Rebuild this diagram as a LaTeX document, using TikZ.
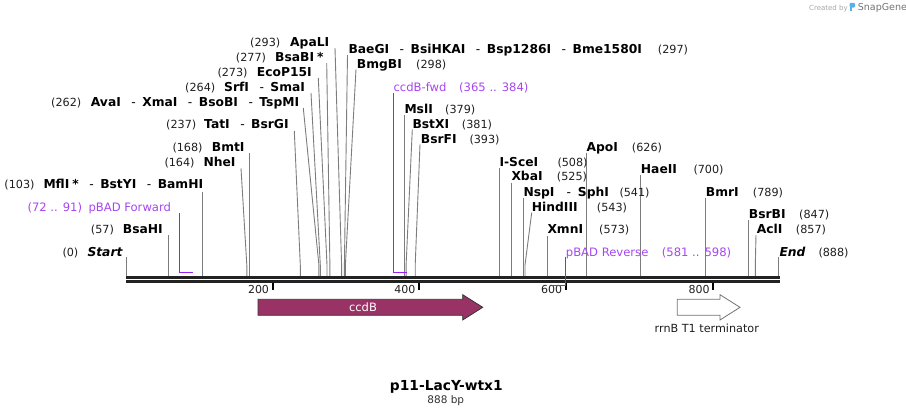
\documentclass[tikz,border=0pt]{standalone}
\usepackage{fontspec}
\setmainfont{DejaVu Sans}
\definecolor{sitegray}{RGB}{125,125,125}
\definecolor{axiscol}{RGB}{34,34,34}
\definecolor{primline}{RGB}{158,32,240}
\definecolor{primtext}{RGB}{166,70,240}
\definecolor{ccdbfill}{RGB}{153,51,102}
\definecolor{numcol}{RGB}{30,30,30}
\definecolor{logoblue}{RGB}{90,175,230}
\newcommand\sepr{\hspace{10.5pt}{\mdseries-}\hspace{6.5pt}}
\newcommand\cutsite[4]{%
  \coordinate (#1t) at (#2,#3);
  \coordinate (#1b) at (#4,265);
  \coordinate (#1a) at (#4,276);
  \draw[site] (#1t) -- (#1b) -- (#1a);}
\tikzset{
  nm/.style={anchor=base west, inner sep=0pt, font=\fontsize{12.3}{14}\selectfont\bfseries, text=black},
  num/.style={anchor=base west, inner sep=0pt, font=\fontsize{11.2}{13}\selectfont, text=numcol},
  prim/.style={anchor=base west, inner sep=0pt, font=\fontsize{11.6}{13}\selectfont, text=primtext},
  site/.style={draw=sitegray, line width=0.9pt},
  primer/.style={draw=primline, line width=1.5pt},
  axisline/.style={draw=axiscol, line width=2.5pt},
  tickmark/.style={draw=black, line width=1.8pt},
  ticklab/.style={anchor=base east, inner sep=0pt, font=\fontsize{11}{13}\selectfont, text=numcol},
}
\begin{document}
\begin{tikzpicture}[x=1pt,y=-1pt]
\useasboundingbox (0,0) rectangle (906,415);

% ---- logo
\node[anchor=base west, inner sep=0pt, font=\fontsize{7}{8}\selectfont, text=black!35] (cr) at (809,10) {Created by};
\fill[logoblue, rounded corners=1pt] (849.5,2.8) rectangle (855,7.5);
\fill[logoblue] (849.5,6) rectangle (852,10.5);
\node[anchor=base west, inner sep=0pt, font=\fontsize{9.5}{11}\selectfont, text=black!55] (sg) at (857.7,10.5) {SnapGene};

% ---- site lines
\cutsite{ApaLI}{335}{48}{341.6}
\cutsite{BsaBI}{326.7}{63}{329.9}
\cutsite{EcoP}{318.3}{78}{327}
\cutsite{SrfI}{311}{93}{320.3}
\cutsite{AvaI}{303.3}{108}{318.9}
\cutsite{TatI}{294.3}{131}{300.3}
\cutsite{BmtI}{249.8}{153}{249.8}
\cutsite{NheI}{241}{168.3}{246.8}
\cutsite{MflI}{202.2}{191.7}{202.2}
\cutsite{BsaHI}{168.5}{235}{168.5}
\cutsite{Start}{126.7}{256.7}{126.7}
\cutsite{BaeGI}{347.5}{55}{344.4}
\cutsite{BmgBI}{356}{69.3}{345.4}
\cutsite{MslI}{404.5}{115}{404.5}
\cutsite{BstXI}{412.3}{129.3}{406.1}
\cutsite{BsrFI}{420}{144.3}{415.2}
\cutsite{ApoI}{586.1}{152.5}{586.1}
\cutsite{ISceI}{499.3}{168.3}{499.3}
\cutsite{HaeII}{640.3}{175}{640.3}
\cutsite{XbaI}{511.5}{183}{511.5}
\cutsite{NspI}{523.4}{198}{523.4}
\cutsite{BmrI}{705.5}{198.3}{705.5}
\cutsite{HindIII}{531.7}{212.7}{525}
\cutsite{BsrBI}{748.2}{220}{748.2}
\cutsite{XmnI}{547.2}{236}{547.2}
\cutsite{AclI}{756}{235}{755.3}
\cutsite{End}{778.6}{257.3}{778.6}

% ---- axis
\coordinate (axL1) at (126.2,277.3);
\coordinate (axR1) at (779.6,277.3);
\coordinate (axL2) at (126.2,281.4);
\coordinate (axR2) at (779.6,281.4);
\draw[axisline] (axL1) -- (axR1);
\draw[axisline] (axL2) -- (axR2);

% ticks
\foreach \tx/\tl in {272.8/200, 419.2/400, 565.8/600, 713.3/800}{
  \draw[tickmark] (\tx,283) -- (\tx,290);
  \node[ticklab] at (\tx-3.6,293.5) {\tl};
}

% ---- primers
\coordinate (pf1) at (179.3,213.3);
\coordinate (pf2) at (179.3,272.6);
\coordinate (pf3) at (193.0,272.6);
\draw[primer] (pf1) -- (pf2) -- (pf3);
\coordinate (cf1) at (393.6,93.3);
\coordinate (cf2) at (393.6,272.6);
\coordinate (cf3) at (407.3,272.6);
\draw[primer] (cf1) -- (cf2) -- (cf3);
\coordinate (pr1) at (565.6,256.7);
\coordinate (pr2) at (565.6,285.6);
\coordinate (pr3) at (552.0,285.6);
\draw[primer] (pr1) -- (pr2) -- (pr3);

% ---- features
\draw[draw=black!80, line width=0.8pt, fill=ccdbfill]
  (258,299.3) -- (462.7,299.3) -- (462.7,294.7) -- (482.7,307.3) -- (462.7,320) -- (462.7,315.3) -- (258,315.3) -- cycle;
\node[inner sep=0pt, font=\fontsize{11.5}{13}\selectfont, text=white] (ccdB) at (363,307) {ccdB};
\draw[draw=black!55, line width=0.8pt, fill=white]
  (677.3,299.3) -- (720,299.3) -- (720,294.7) -- (740,307.3) -- (720,320) -- (720,315.3) -- (677.3,315.3) -- cycle;
\node[anchor=base, inner sep=0pt, font=\fontsize{11.2}{13}\selectfont, text=numcol] (rrnB) at (706.8,332.3) {rrnB T1 terminator};

% ---- left labels
\node[num] (p293) at (250,46.6) {(293)};   \node[nm] (nApaLI) at (290,46.6) {ApaLI};
\node[num] (p277) at (235.7,61) {(277)};   \node[nm] (nBsaBI) at (275,61) {BsaBI\hspace{3pt}*};
\node[num] (p273) at (217.3,76) {(273)};   \node[nm] (nEcoP) at (256.7,76) {EcoP15I};
\node[num] (p264) at (185,91.6) {(264)};   \node[nm] (nSrfI) at (224,91.6) {SrfI\sepr SmaI};
\node[num] (p262) at (51,106) {(262)};     \node[nm] (nAvaI) at (90.7,106) {AvaI\sepr XmaI\sepr BsoBI\sepr TspMI};
\node[num] (p237) at (166,128.6) {(237)};  \node[nm] (nTatI) at (204,128.6) {TatI\sepr BsrGI};
\node[num] (p168) at (172.3,151) {(168)};  \node[nm] (nBmtI) at (211.7,151) {BmtI};
\node[num] (p164) at (164.3,166.6) {(164)}; \node[nm] (nNheI) at (203.3,166.6) {NheI};
\node[num] (p103) at (4.3,188.3) {(103)};  \node[nm] (nMflI) at (43.3,188.3) {MflI\hspace{3pt}*\sepr BstYI\sepr BamHI};
\node[prim] (ppf) at (27.3,211) {(72 .. 91)}; \node[prim] (npf) at (88.3,211) {pBAD Forward};
\node[num] (p57) at (90.7,233.6) {(57)};   \node[nm] (nBsaHI) at (122.7,233.6) {BsaHI};
\node[num] (p0) at (62.3,256) {(0)};       \node[nm, font=\fontsize{12.3}{14}\selectfont\bfseries\itshape] (nStart) at (87.3,256) {Start};

% ---- right labels
\node[nm] (nBaeGI) at (348.3,53.3) {BaeGI\sepr BsiHKAI\sepr Bsp1286I\sepr Bme1580I}; \node[num] (p297) at (657.7,53.3) {(297)};
\node[nm] (nBmgBI) at (356.7,68.3) {BmgBI};  \node[num] (p298) at (416,68.3) {(298)};
\node[prim] (ncf) at (393.3,91.6) {ccdB-fwd}; \node[prim] (pcf) at (459,91.6) {(365 .. 384)};
\node[nm] (nMslI) at (404.3,113.6) {MslI};   \node[num] (p379) at (445,113.6) {(379)};
\node[nm] (nBstXI) at (412.3,128.6) {BstXI}; \node[num] (p381) at (461.7,128.6) {(381)};
\node[nm] (nBsrFI) at (420.7,143.3) {BsrFI}; \node[num] (p393) at (469.3,143.3) {(393)};
\node[nm] (nApoI) at (586.3,151) {ApoI};     \node[num] (p626) at (631.7,151) {(626)};
\node[nm] (nISceI) at (499.3,166) {I-SceI};  \node[num] (p508) at (557.3,166) {(508)};
\node[nm] (nHaeII) at (640.7,173.3) {HaeII}; \node[num] (p700) at (693.3,173.3) {(700)};
\node[nm] (nXbaI) at (511.3,180.3) {XbaI};   \node[num] (p525) at (556.7,180.3) {(525)};
\node[nm] (nNspI) at (523.3,196) {NspI\hspace{12pt}{\mdseries-}\hspace{7pt}SphI}; \node[num] (p541) at (619.3,196) {(541)};
\node[nm] (nBmrI) at (705.7,196.6) {BmrI};   \node[num] (p789) at (752.7,196.6) {(789)};
\node[nm] (nHindIII) at (531.7,211) {HindIII}; \node[num] (p543) at (596.7,211) {(543)};
\node[nm] (nBsrBI) at (748.7,218.3) {BsrBI}; \node[num] (p847) at (799,218.3) {(847)};
\node[nm] (nXmnI) at (547.3,233.3) {XmnI};   \node[num] (p573) at (599,233.3) {(573)};
\node[nm] (nAclI) at (756.7,233.3) {AclI};   \node[num] (p857) at (795.7,233.3) {(857)};
\node[prim] (npr) at (565.7,256) {pBAD Reverse}; \node[prim] (ppr) at (661.7,256) {(581 .. 598)};
\node[nm, font=\fontsize{12.3}{14}\selectfont\bfseries\itshape] (nEnd) at (779.3,256) {End}; \node[num] (p888) at (818.3,256) {(888)};

% ---- title
\node[anchor=base, inner sep=0pt, font=\fontsize{13.8}{15}\selectfont\bfseries, text=black] (title) at (446.3,390.5) {p11-LacY-wtx1};
\node[anchor=base, inner sep=0pt, font=\fontsize{10.5}{12}\selectfont, text=black!80] (bp) at (445.8,403.3) {888 bp};
\end{tikzpicture}
\end{document}
